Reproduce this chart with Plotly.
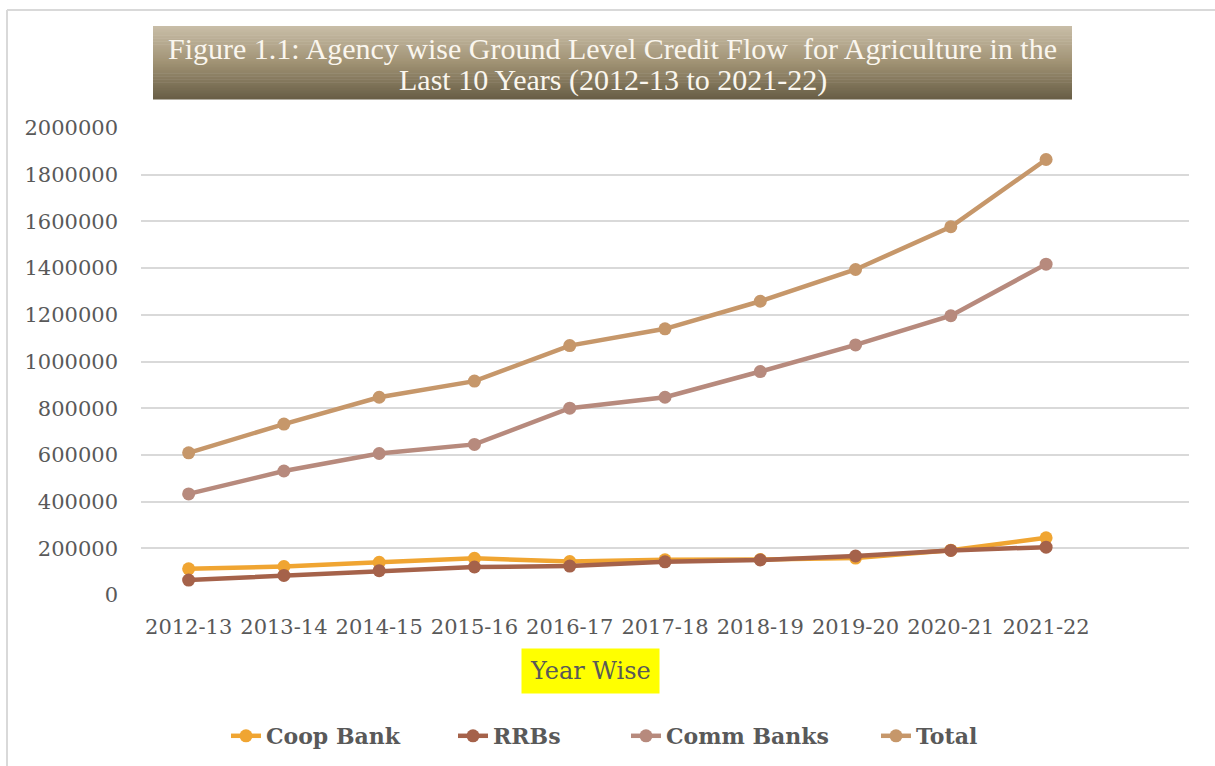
import plotly.graph_objects as go

# Ground level credit flow for agriculture, by agency
years = ["2012-13", "2013-14", "2014-15", "2015-16", "2016-17",
         "2017-18", "2018-19", "2019-20", "2020-21", "2021-22"]
coop_bank = [112000, 122000, 140000, 157000, 143000, 151000, 152000, 158000, 192000, 245000]
rrbs = [64000, 84000, 104000, 120000, 124000, 142000, 150000, 167000, 191000, 205000]
comm_banks = [433000, 531000, 606000, 645000, 800000, 847000, 957000, 1071000, 1196000, 1417000]
total = [609000, 732000, 847000, 916000, 1068000, 1140000, 1258000, 1394000, 1577000, 1865000]

y_ticks = [0, 200000, 400000, 600000, 800000, 1000000, 1200000,
           1400000, 1600000, 1800000, 2000000]

title_lines = [
    "Figure 1.1: Agency wise Ground Level Credit Flow  for Agriculture in the",
    "Last 10 Years (2012-13 to 2021-22)",
]

# name, values, colour, legend text width (px)
series = [
    ("Coop Bank", coop_bank, "#F0A532", 182),
    ("RRBs", rrbs, "#A5624A", 128),
    ("Comm Banks", comm_banks, "#B78A7D", 205),
    ("Total", total, "#C6976A", 90),
]

W, H = 1215, 766
L, R, T, B = 141, 1189, 128, 595  # plot area in pixels


def px(x):
    return (x - L) / (R - L)


def py(y):
    return (B - y) / (B - T)


fig = go.Figure()
for name, vals, color, lw in series:
    fig.add_trace(go.Scatter(
        x=years, y=vals, name=name, mode="lines+markers",
        line=dict(color=color, width=4.5),
        marker=dict(color=color, size=13),
        legendwidth=lw,
    ))

shapes = []
# chart frame (top and left edges)
shapes.append(dict(type="line", xref="paper", yref="paper",
                   x0=px(7), x1=px(1215), y0=py(10), y1=py(10),
                   line=dict(color="#D9D9D9", width=2)))
shapes.append(dict(type="line", xref="paper", yref="paper",
                   x0=px(7), x1=px(7), y0=py(10), y1=py(766),
                   line=dict(color="#D9D9D9", width=2)))

# title banner with a vertical tan-to-olive gradient
top_c = (201, 190, 168)
mid_c = (160, 146, 116)
bot_c = (104, 94, 70)
by0, by1 = 26, 99
n = 48
for i in range(n):
    t = (i + 0.5) / n
    if t < 0.5:
        a, b, f = top_c, mid_c, t / 0.5
    else:
        a, b, f = mid_c, bot_c, (t - 0.5) / 0.5
    c = tuple(round(a[k] + (b[k] - a[k]) * f) for k in range(3))
    ya = by0 + (by1 - by0) * i / n
    yb = by0 + (by1 - by0) * (i + 1) / n + 0.6
    shapes.append(dict(type="rect", xref="paper", yref="paper",
                       x0=px(153), x1=px(1072), y0=py(yb), y1=py(ya),
                       fillcolor="rgb(%d,%d,%d)" % c, line=dict(width=0),
                       layer="below"))

annotations = []
for line_text, line_y in zip(title_lines, [48, 80]):
    annotations.append(dict(
        text=line_text, xref="paper", yref="paper",
        x=px(612.5), y=py(line_y), xanchor="center", yanchor="middle",
        showarrow=False,
        font=dict(family="Liberation Serif", size=30, color="#FAF6EE")))

annotations.append(dict(
    text="Year Wise", xref="paper", yref="paper",
    x=px(590.5), y=py(671), xanchor="center", yanchor="middle",
    showarrow=False, bgcolor="#FFFF00", borderpad=8,
    font=dict(family="DejaVu Serif", size=24, color="#595959")))

fig.update_layout(
    width=W, height=H,
    margin=dict(l=L, r=W - R, t=T, b=H - B, pad=0, autoexpand=False),
    paper_bgcolor="white", plot_bgcolor="white",
    font=dict(family="DejaVu Serif", size=21, color="#595959"),
    showlegend=True,
    legend=dict(orientation="h", x=px(226), xanchor="left",
                y=py(736), yanchor="middle",
                font=dict(family="DejaVu Serif", size=22, color="#595959",
                          weight="bold"),
                tracegroupgap=0),
    xaxis=dict(type="category", range=[-0.5, 10.5], showgrid=False,
               showline=False, zeroline=False, ticks="",
               tickfont=dict(size=21), ticklabelstandoff=17),
    yaxis=dict(range=[0, 2000000], tickvals=y_ticks,
               ticktext=[str(v) for v in y_ticks],
               showgrid=True, gridcolor="#D9D9D9", gridwidth=1.5,
               zeroline=False, showline=False, ticks="",
               tickfont=dict(size=21), ticklabelstandoff=22),
    shapes=shapes,
    annotations=annotations,
)

fig.write_html("out.html")
